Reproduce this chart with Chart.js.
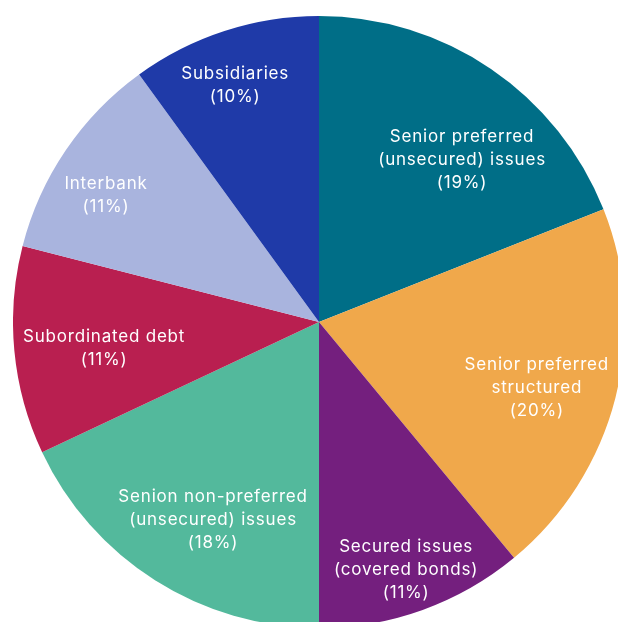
<!DOCTYPE html>
<html>
<head>
<meta charset="utf-8">
<script src="https://cdn.jsdelivr.net/npm/chart.js@4"></script>
<style>
  html, body { margin: 0; padding: 0; background: #ffffff; overflow: hidden; width: 618px; height: 622px; }
  #wrap { position: absolute; left: 13px; top: 16px; width: 612px; height: 612px; }
</style>
</head>
<body>
<div id="wrap"><canvas id="chart" width="612" height="612"></canvas></div>
<script>
// Funding structure by source, in percent
const categories = [
  ["Senior preferred", "(unsecured) issues"],
  ["Senior preferred", "structured"],
  ["Secured issues", "(covered bonds)"],
  ["Senion non-preferred", "(unsecured) issues"],
  ["Subordinated debt"],
  ["Interbank"],
  ["Subsidiaries"]
];
const shares = [19, 20, 11, 18, 11, 11, 10];
const sliceColors = ["#006e87", "#f0a84b", "#741f7e", "#53b99c", "#b91f50", "#a9b4de", "#1f3aa8"];

// Where each label sits inside its slice: fraction of radius, angle shift (deg)
const labelSpots = [
  [0.711, 6.9], [0.742, 2.0], [0.853, 0.3], [0.728, -4.0],
  [0.707, -1.2], [0.812, -3.2], [0.825, -1.4]
];

const sliceLabels = {
  id: "sliceLabels",
  afterDatasetsDraw(chart) {
    const ctx = chart.ctx;
    const meta = chart.getDatasetMeta(0);
    ctx.save();
    ctx.fillStyle = "#ffffff";
    ctx.font = "400 17px Inter, 'Noto Sans', sans-serif";
    if ("letterSpacing" in ctx) ctx.letterSpacing = "0.8px";
    ctx.textAlign = "center";
    ctx.textBaseline = "middle";
    const lh = 23;
    meta.data.forEach((arc, i) => {
      const p = arc.getProps(["x", "y", "startAngle", "endAngle", "outerRadius"], true);
      const [frac, shift] = labelSpots[i];
      const a = (p.startAngle + p.endAngle) / 2 + shift * Math.PI / 180;
      const r = p.outerRadius * frac;
      const cx = p.x + Math.cos(a) * r;
      const cy = p.y + Math.sin(a) * r + 1.5;
      const lines = categories[i].concat(["(" + shares[i] + "%)"]);
      const top = cy - (lines.length - 1) * lh / 2;
      lines.forEach((t, k) => ctx.fillText(t, cx, top + k * lh));
    });
    ctx.restore();
  }
};

new Chart(document.getElementById("chart"), {
  type: "pie",
  data: {
    labels: categories.map(c => c.join(" ")),
    datasets: [{
      data: shares,
      backgroundColor: sliceColors,
      borderWidth: 0
    }]
  },
  options: {
    responsive: false,
    animation: false,
    layout: { padding: 0 },
    plugins: {
      legend: { display: false },
      tooltip: { enabled: false }
    }
  },
  plugins: [sliceLabels]
});
</script>
</body>
</html>
